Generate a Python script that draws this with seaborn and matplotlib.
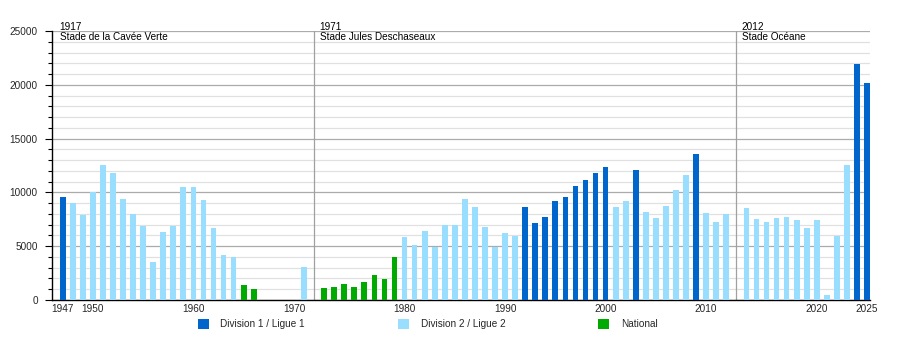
import matplotlib
matplotlib.use("Agg")
import matplotlib.pyplot as plt
from matplotlib.patches import Patch
from matplotlib.ticker import MultipleLocator
import seaborn as sns
import pandas as pd

# ---- data ----
years = list(range(1947, 1967)) + list(range(1971, 2026))
attendance = [
    9600, 9000, 7900, 10000, 12500, 11800, 9400, 8000, 6900, 3550,
    6300, 6900, 10500, 10500, 9300, 6700, 4150, 4000, 1400, 1050,
    3050,
    1150, 1250, 1500, 1250, 1700, 2350, 1950, 4000,
    5850, 5100, 6400, 4900, 6950, 6950, 9400, 8650, 6800, 4950, 6200, 5950,
    8650, 7200, 7700, 9200, 9550, 10600, 11150, 11800, 12350,
    8650, 9200, 12100, 8200, 7600, 8750, 10200, 11600, 13550, 8100, 7250, 8000,
    8550, 7500, 7250, 7600, 7750, 7450, 6700, 7450, 450, 5950, 12500, 21900, 20200,
]
division = (
    ["D1"] + ["D2"] * 17 + ["N"] * 2
    + ["D2"]
    + ["N"] * 8
    + ["D2"] * 12
    + ["D1"] * 9
    + ["D2", "D2", "D1", "D2", "D2", "D2", "D2", "D2", "D1", "D2", "D2", "D2"]
    + ["D2"] * 11 + ["D1", "D1"]
)
division_labels = ["Division 1 / Ligue 1", "Division 2 / Ligue 2", "National"]
division_keys = ["D1", "D2", "N"]
division_colors = ["#0066cc", "#99ddff", "#00aa00"]

stadium_years = ["1917", "1971", "2012"]
stadium_names = ["Stade de la Cavée Verte", "Stade Jules Deschaseaux", "Stade Océane"]
stadium_slots = [None, "gap1", "gap2"]

tick_years = ["1947", "1950", "1960", "1970", "1980", "1990", "2000", "2010", "2020", "2025"]

# category order (with an empty slot at each stadium change)
order = ([str(y) for y in range(1947, 1972)] + ["gap1"]
         + [str(y) for y in range(1972, 2013)] + ["gap2"]
         + [str(y) for y in range(2013, 2026)])

df = pd.DataFrame({"year": [str(y) for y in years],
                   "attendance": attendance,
                   "division": division})

sns.set_style("white")
plt.rcParams["font.family"] = ["Liberation Sans", "DejaVu Sans"]
plt.rcParams["font.size"] = 7.2

fig = plt.figure(figsize=(9, 3.5), dpi=100)
ax = fig.add_axes([0.0574, 0.1429, 0.9093, 0.7685])

sns.barplot(data=df, x="year", y="attendance", hue="division", order=order,
            hue_order=division_keys, palette=division_colors, dodge=False,
            width=0.57, linewidth=0, saturation=1, legend=False, ax=ax, zorder=3)

ax.set_xlim(-1.1, 80.3)
ax.set_ylim(0, 25000)
ax.yaxis.set_major_locator(MultipleLocator(5000))
ax.yaxis.set_minor_locator(MultipleLocator(1000))
ax.grid(axis="y", which="major", color="#ababab", linewidth=0.9, zorder=0)
ax.grid(axis="y", which="minor", color="#e0e0e0", linewidth=0.9, zorder=0)
ax.grid(axis="x", visible=False)
ax.set_axisbelow(True)

for s in ["top", "right"]:
    ax.spines[s].set_visible(False)
for s in ["left", "bottom"]:
    ax.spines[s].set_color("black")
    ax.spines[s].set_linewidth(1.0)

ax.tick_params(axis="y", which="major", length=5, width=0.8, color="black",
               labelsize=7.2, pad=5, left=True)
ax.tick_params(axis="y", which="minor", length=3, width=0.8, color="black", left=True)
ax.set_xticks([order.index(t) for t in tick_years])
ax.set_xticklabels(tick_years)
ax.tick_params(axis="x", length=0, labelsize=7.2, pad=3)
ax.set_xlabel("")
ax.set_ylabel("")

# stadium change lines and labels
for yr, name, slot in zip(stadium_years, stadium_names, stadium_slots):
    if slot is None:
        xpos = ax.get_xlim()[0]
        off = 0.8
    else:
        xpos = order.index(slot)
        ax.axvline(xpos, color="#a0a0a0", linewidth=0.9, zorder=1)
        off = 0.55
    ax.text(xpos + off, 1.035, yr + "\n" + name, transform=ax.get_xaxis_transform(),
            ha="left", va="top", fontsize=7.2, linespacing=1.05, color="black")

handles = [Patch(facecolor=c, edgecolor="none") for c in division_colors]
fig.legend(handles, division_labels, loc="center left", bbox_to_anchor=(0.22, 0.074),
           ncol=3, frameon=False, fontsize=7.2, handlelength=1.1, handleheight=1.15,
           handletextpad=1.15, columnspacing=9.3, borderpad=0, borderaxespad=0)

fig.savefig("out.png", dpi=100)
